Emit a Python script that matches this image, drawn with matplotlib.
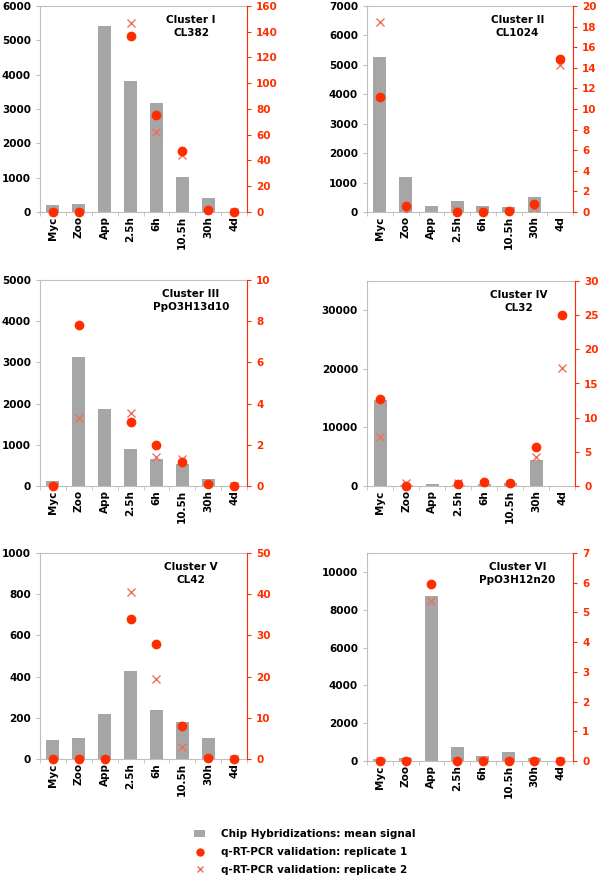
import numpy as np
import matplotlib.pyplot as plt
from matplotlib.lines import Line2D
from matplotlib.patches import Patch

plt.rcParams['font.family'] = 'DejaVu Sans'
plt.rcParams['font.weight'] = 'bold'

stages = ["Myc", "Zoo", "App", "2.5h", "6h", "10.5h", "30h", "4d"]
nan = np.nan

titles = ["Cluster I\nCL382", "Cluster II\nCL1024", "Cluster III\nPpO3H13d10",
          "Cluster IV\nCL32", "Cluster V\nCL42", "Cluster VI\nPpO3H12n20"]

# chip hybridization mean signal (left axis)
chip_1 = [200, 230, 5420, 3820, 3180, 1020, 420, 0]
chip_2 = [5250, 1180, 220, 370, 200, 170, 520, 0]
chip_3 = [120, 3130, 1870, 890, 660, 530, 180, 0]
chip_4 = [14700, 100, 400, 200, 300, 500, 4500, 0]
chip_5 = [90, 103, 220, 428, 240, 178, 103, 0]
chip_6 = [120, 150, 8720, 750, 250, 480, 150, 0]

# q-RT-PCR replicate 1 (right axis)
rep1_1 = [0, 0, nan, 137, 75, 47, 1.5, 0]
rep1_2 = [11.2, 0.6, nan, 0, 0, 0.1, 0.8, 14.9]
rep1_3 = [0, 7.8, nan, 3.1, 2.0, 1.15, 0.1, 0]
rep1_4 = [12.8, 0, nan, 0.3, 0.6, 0.5, 5.7, 25.0]
rep1_5 = [0, 0, 0, 34, 28, 8, 0.2, 0]
rep1_6 = [0, 0, 5.95, 0, 0, 0, 0, 0]

# q-RT-PCR replicate 2 (right axis)
rep2_1 = [0, 0, nan, 147, 62, 44, 0.3, 0]
rep2_2 = [18.4, 0.1, nan, 0.2, 0.1, 0.1, 0.4, 14.3]
rep2_3 = [0, 3.3, nan, 3.55, 1.4, 1.3, 0.05, 0]
rep2_4 = [7.2, 0.4, nan, 0.5, 0.3, 0.2, 4.3, 17.3]
rep2_5 = [0, 0, 0, 40.5, 19.3, 3, 0, 0]
rep2_6 = [0, 0, 5.4, 0, 0, 0, 0, 0]

chips = [chip_1, chip_2, chip_3, chip_4, chip_5, chip_6]
rep1s = [rep1_1, rep1_2, rep1_3, rep1_4, rep1_5, rep1_6]
rep2s = [rep2_1, rep2_2, rep2_3, rep2_4, rep2_5, rep2_6]

left_lim = [(6000, 1000), (7000, 1000), (5000, 1000), (35000, 10000), (1000, 200), (11000, 2000)]
right_lim = [(160, 20), (20, 2), (10, 2), (30, 5), (50, 10), (7, 1)]

bar_col = "#a6a6a6"
red = "#ff2d00"
red2 = "#f07060"
spine_gray = "#bfbfbf"

W, H = 600, 880
fig = plt.figure(figsize=(6, 8.8), dpi=100)

# panel boxes in pixels: left, right, top, bottom
boxes = [(40, 247, 6, 212), (367, 573, 6, 212),
         (40, 247, 280, 486), (367, 575, 281, 486),
         (40, 247, 553, 759), (367, 573, 553, 761)]

x = np.arange(len(stages))
for k, (l, r, t, b) in enumerate(boxes):
    ax = fig.add_axes([l / W, 1 - b / H, (r - l) / W, (b - t) / H])
    ax.bar(x, chips[k], width=0.5, color=bar_col, zorder=1)
    ax.set_xlim(-0.5, len(stages) - 0.5)
    top, step = left_lim[k]
    ax.set_ylim(0, top)
    ax.set_yticks(np.arange(0, top + 1, step))
    ax.set_xticks(x)
    ax.set_xticklabels(stages, rotation=90, fontsize=7.5, fontweight='bold')
    ax.set_xticks(np.arange(-0.5, len(stages), 1), minor=True)
    ax.tick_params(axis='x', which='major', length=0, pad=3)
    ax.tick_params(axis='x', which='minor', length=3, color=spine_gray)
    ax.tick_params(axis='y', labelsize=7.5, length=3, color=spine_gray)
    for lab in ax.get_yticklabels():
        lab.set_fontweight('bold')
    for s in ax.spines.values():
        s.set_color(spine_gray)
    ax.text(0.73, 0.955, titles[k], transform=ax.transAxes, ha='center', va='top',
            fontsize=7.5, fontweight='bold', linespacing=1.3)

    ax2 = ax.twinx()
    rtop, rstep = right_lim[k]
    ax2.set_ylim(0, rtop)
    ax2.set_yticks(np.arange(0, rtop + 0.01, rstep))
    ax2.plot(x, rep2s[k], linestyle='none', marker='x', color=red2, ms=6, mew=1, zorder=3)
    ax2.plot(x, rep1s[k], linestyle='none', marker='o', color=red, ms=6, zorder=4, clip_on=False)
    ax2.tick_params(axis='y', colors=red, labelsize=7.5, length=3)
    for lab in ax2.get_yticklabels():
        lab.set_fontweight('bold')
    for side in ['left', 'top', 'bottom']:
        ax2.spines[side].set_visible(False)
    ax2.spines['right'].set_color(red)

handles = [Patch(facecolor=bar_col, edgecolor='none'),
           Line2D([], [], linestyle='none', marker='o', color=red, ms=5),
           Line2D([], [], linestyle='none', marker='x', color=red2, ms=5)]
labels = ["Chip Hybridizations: mean signal",
          "q-RT-PCR validation: replicate 1",
          "q-RT-PCR validation: replicate 2"]
fig.legend(handles, labels, loc='upper left', bbox_to_anchor=(185 / W, 1 - 820 / H),
           frameon=False, prop={'size': 7.5, 'weight': 'bold'}, handlelength=1.0,
           handletextpad=1.6, labelspacing=0.75)

fig.savefig("out.png", dpi=100)
